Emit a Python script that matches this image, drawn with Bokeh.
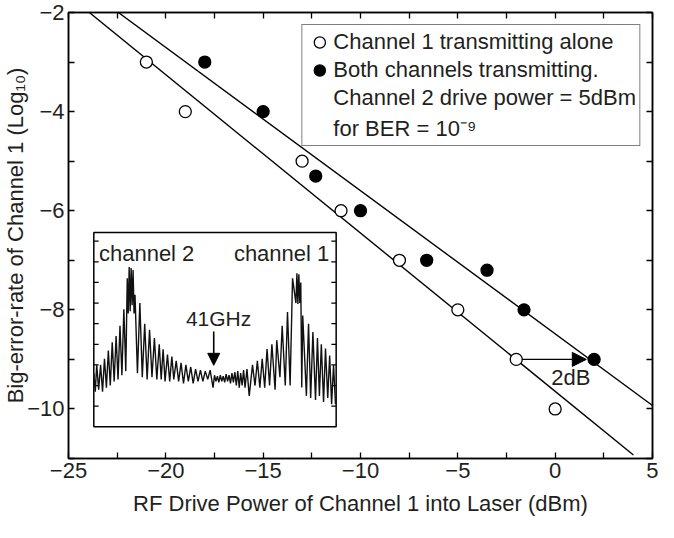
from bokeh.plotting import figure
from bokeh.models import (Range1d, LinearAxis, FixedTicker, Legend, LegendItem,
                          Arrow, NormalHead, Label, ColumnDataSource)
from bokeh.embed import file_html
from bokeh.resources import INLINE

# ---------------- data ----------------
alone_x = [-21, -19, -13, -11, -8, -5, -2, 0]
alone_y = [-3, -4, -5, -6, -7, -8, -9, -10]
both_x = [-18, -15, -12.3, -10, -6.6, -3.5, -1.6, 2]
both_y = [-3, -4, -5.3, -6, -7, -7.2, -8, -9]

fit_alone_x = [-23.93, 4.02]
fit_alone_y = [-2, -10.93]
fit_both_x = [-22.44, 5]
fit_both_y = [-2, -9.93]

shift_x = [-2, 2]          # 2 dB shift at BER = 1e-9
shift_y = -9
shift_label = "2dB"

x_ticks = [-25, -20, -15, -10, -5, 0, 5]
x_tick_labels = ["\u221225", "\u221220", "\u221215", "\u221210", "\u22125", "0", "5"]
x_minor = [-22.5, -17.5, -12.5, -7.5, -2.5, 2.5]
y_ticks = [-10, -8, -6, -4, -2]
y_tick_labels = ["\u221210", "\u22128", "\u22126", "\u22124", "\u22122"]
y_minor = [-11, -9, -7, -5, -3]

x_title = "RF Drive Power of Channel 1 into Laser (dBm)"
y_title = "Big-error-rate of Channel 1 (Log\u2081\u2080)"

# inset: optical spectrum (position across inset 0..250, level in divisions 0..9.4)
spec_u = [0, 1.5, 3, 5, 7, 9, 11, 13, 15, 17, 19, 21, 23, 25, 27, 29, 31, 33,
          34.5, 35.5, 36.5, 37.5, 38.5, 39.5, 40.5, 41.5, 42.5, 45,
          47.5, 50, 52.5, 55, 57.5, 60, 62.5, 65, 67.5, 69.5, 71.5, 73.5, 76, 78.3,
          80.5, 82.5, 85, 87.5, 90, 92.5, 95, 97.5, 100, 102.5, 105, 107.5, 110,
          112.5, 115, 117.5, 120, 123, 124.5,
          126, 127.5, 129, 130.5, 132, 133.5, 135, 136.5, 138, 139.5, 141, 142.5,
          144, 145.5, 147, 148.5, 150, 151.5, 153, 154.5, 156, 158,
          160.3, 163.7, 166.3, 168.7, 171.3, 173.7, 176.3, 178.7, 181.3, 183.7,
          187, 188.7, 192, 194.3, 197.5, 199.8, 202.5, 205,
          208.5, 209.5, 210.5, 211.5, 212.5, 213.5, 214.5, 215.5,
          219.3, 221.5, 223.7, 226, 228.7, 230.7, 232.7, 234.7, 237, 239, 241.3,
          243.3, 245.3, 247.3, 249.3, 250]
spec_v = [2.6, 1.7, 3.0, 1.8, 3.0, 1.7, 3.3, 1.9, 3.7, 2.0, 4.1, 2.2, 4.4, 2.3, 4.9, 2.5, 5.7, 2.7,
          7.2, 5.5, 7.75, 5.6, 7.7, 5.9, 7.6, 5.5, 6.4, 2.6,
          6.0, 2.4, 5.0, 2.3, 4.7, 2.4, 4.3, 2.3, 4.0, 2.3, 3.76, 2.2, 3.5,
          2.2, 3.4, 2.3, 3.2, 2.2, 3.1, 2.1, 3.0, 2.2, 2.9, 2.1, 2.8, 2.2,
          2.75, 2.2, 2.7, 2.3, 2.75, 1.9,
          2.5, 2.2, 2.45, 2.15, 2.5, 2.2, 2.45, 2.15, 2.55, 2.2, 2.5, 2.1,
          2.6, 2.15, 2.65, 2.0, 2.7, 1.9, 2.6, 2.0, 2.75, 1.9,
          2.8, 1.5, 3.0, 2.0, 3.2, 1.9, 3.3, 1.9, 3.77, 2.0,
          4.0, 1.8, 4.2, 2.4, 4.9, 2.0, 5.57, 2.0,
          7.2, 6.0, 7.44, 5.95, 7.4, 6.0, 7.0, 1.9,
          5.4, 1.5, 5.0, 1.4, 4.6, 1.3, 4.3, 1.5, 4.0, 1.2, 3.8,
          1.4, 3.45, 1.1, 3.0, 1.1]
inset_tick_v = [1, 2, 3, 4, 5, 6, 7, 8, 9]
ch2_label = "channel 2"
ch1_label = "channel 1"
gap_label = "41GHz"
gap_u = 123.7

# ---------------- layout constants ----------------
FONT = "Liberation Sans"
TXT = "#231f20"
INSET_X = (-23.7, -11.25)      # inset box in main data coordinates
INSET_Y = (-10.36, -6.44)
U_SPAN, V_SPAN = 250.0, 9.42
W, H = 658, 522

p = figure(width=W, height=H, x_range=Range1d(-25, 5), y_range=Range1d(-11, -2),
           output_backend="svg", toolbar_location=None,
           min_border_left=64, min_border_right=6, min_border_top=12, min_border_bottom=64,
           x_axis_label=x_title, y_axis_label=y_title)
p.grid.visible = False
p.outline_line_color = "black"
p.outline_line_width = 1.5


def style_axis(ax, ticks, show_labels=True):
    ax.major_tick_in = 6
    ax.major_tick_out = 0
    ax.minor_tick_in = 6
    ax.minor_tick_out = 0
    ax.major_tick_line_color = "black"
    ax.minor_tick_line_color = "black"
    ax.major_tick_line_width = 1.3
    ax.minor_tick_line_width = 1.3
    ax.axis_line_color = "black"
    ax.axis_line_width = 1.5
    ax.major_label_text_font = FONT
    ax.major_label_text_font_size = "22px"
    ax.major_label_text_color = TXT
    ax.axis_label_text_font = FONT
    ax.axis_label_text_font_size = "22px"
    ax.axis_label_text_font_style = "normal"
    ax.axis_label_text_color = TXT
    if show_labels:
        ax.major_label_standoff = 4
        ax.axis_label_standoff = 10
    else:
        ax.major_label_overrides = {t: "" for t in ticks}
        ax.major_label_standoff = 0
        ax.axis_label_standoff = 0


xax = p.xaxis[0]
xax.ticker = FixedTicker(ticks=x_ticks, minor_ticks=x_minor)
style_axis(xax, x_ticks)
xax.major_label_overrides = dict(zip(x_ticks, x_tick_labels))
yax = p.yaxis[0]
yax.ticker = FixedTicker(ticks=y_ticks, minor_ticks=y_minor)
style_axis(yax, y_ticks)
yax.major_label_overrides = dict(zip(y_ticks, y_tick_labels))
yax.axis_label_standoff = -4

ax_top = LinearAxis(ticker=FixedTicker(ticks=x_ticks, minor_ticks=x_minor))
style_axis(ax_top, x_ticks, False)
p.add_layout(ax_top, "above")
ax_right = LinearAxis(ticker=FixedTicker(ticks=y_ticks, minor_ticks=y_minor))
style_axis(ax_right, y_ticks, False)
p.add_layout(ax_right, "right")

# fitted lines
p.line(fit_alone_x, fit_alone_y, line_color="black", line_width=1.4)
p.line(fit_both_x, fit_both_y, line_color="black", line_width=1.4)

# measured points
r_alone = p.scatter(alone_x, alone_y, size=12, marker="circle", fill_color="white",
                    line_color="black", line_width=1.3)
r_both = p.scatter(both_x, both_y, size=12, marker="circle", fill_color="black",
                   line_color="black", line_width=1.3)

# 2 dB arrow
p.add_layout(Arrow(end=NormalHead(size=14, fill_color="black", line_color="black"),
                   x_start=shift_x[0] + 0.3, y_start=shift_y,
                   x_end=shift_x[1] - 0.4, y_end=shift_y,
                   line_color="black", line_width=1.4))
p.add_layout(Label(x=(shift_x[0] + shift_x[1]) / 2 + 0.8, y=shift_y - 0.36, text=shift_label,
                   text_align="center", text_baseline="middle", text_font=FONT,
                   text_font_size="22px", text_color=TXT))

# ---------------- inset ----------------
sx = U_SPAN / (INSET_X[1] - INSET_X[0])
sy = V_SPAN / (INSET_Y[1] - INSET_Y[0])
p.extra_x_ranges = {"ix": Range1d(start=(-25 - INSET_X[0]) * sx, end=(5 - INSET_X[0]) * sx)}
p.extra_y_ranges = {"iy": Range1d(start=(-11 - INSET_Y[0]) * sy, end=(-2 - INSET_Y[0]) * sy)}
ik = dict(x_range_name="ix", y_range_name="iy")

p.quad(left=0, right=U_SPAN, bottom=0, top=V_SPAN, fill_color="white",
       line_color="black", line_width=1.5, **ik)
p.segment(x0=[0] * len(inset_tick_v), x1=[5] * len(inset_tick_v), y0=inset_tick_v,
          y1=inset_tick_v, line_color="black", line_width=1.2, **ik)
p.segment(x0=[U_SPAN - 5] * len(inset_tick_v), x1=[U_SPAN] * len(inset_tick_v),
          y0=inset_tick_v, y1=inset_tick_v, line_color="black", line_width=1.2, **ik)
p.line(spec_u, spec_v, line_color="#111111", line_width=1.4, **ik)

for txt, u in ((ch2_label, 54.5), (ch1_label, 193.7)):
    p.add_layout(Label(x=u, y=8.41, text=txt, text_align="center", text_baseline="middle",
                       text_font=FONT, text_font_size="22px", text_color=TXT, **ik))
p.add_layout(Label(x=gap_u + 5, y=5.24, text=gap_label, text_align="center",
                   text_baseline="middle", text_font=FONT, text_font_size="21px",
                   text_color=TXT, **ik))
p.add_layout(Arrow(end=NormalHead(size=12, fill_color="black", line_color="black"),
                   x_start=gap_u, y_start=4.62, x_end=gap_u, y_end=2.98,
                   line_color="black", line_width=1.6, **ik))

# ---------------- legend ----------------
empty = ColumnDataSource(data=dict(x=[], y=[]))
r_blank1 = p.scatter("x", "y", source=empty, fill_alpha=0, line_alpha=0)
r_blank2 = p.scatter("x", "y", source=empty, fill_alpha=0, line_alpha=0)
legend = Legend(items=[
    LegendItem(label="Channel 1 transmitting alone", renderers=[r_alone]),
    LegendItem(label="Both channels transmitting.", renderers=[r_both]),
    LegendItem(label="Channel 2 drive power = 5dBm", renderers=[r_blank1]),
    LegendItem(label="for BER = 10\u207b\u2079", renderers=[r_blank2]),
], location="top_right")
legend.label_text_font = FONT
legend.label_text_font_size = "22px"
legend.label_text_color = TXT
legend.border_line_color = "black"
legend.border_line_width = 1.5
legend.background_fill_color = "white"
legend.background_fill_alpha = 1
legend.padding = 3
legend.spacing = 0
legend.margin = 12
legend.glyph_width = 28
legend.glyph_height = 28
legend.label_standoff = -6
legend.label_height = 26
p.add_layout(legend)

open("out.html", "w").write(file_html(p, INLINE))
